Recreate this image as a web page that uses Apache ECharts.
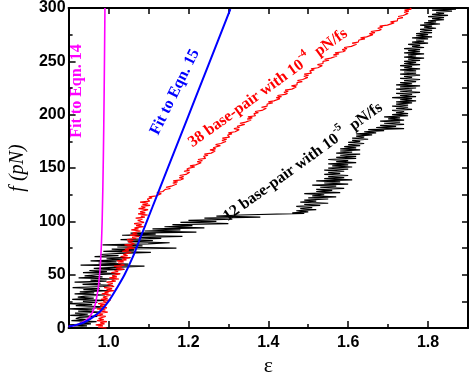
<!DOCTYPE html>
<html>
<head>
<meta charset="UTF-8">
<script src="https://cdn.jsdelivr.net/npm/echarts@6/dist/echarts.min.js"></script>
<style>
html, body { margin: 0; padding: 0; background: #fff; }
#chart { width: 471px; height: 382px; }
</style>
</head>
<body>
<div id="chart"></div>
<script>
// ---- data ----

const xMajorTicks = [1.0, 1.2, 1.4, 1.6, 1.8];

// 12 base-pair, 10^-5 pN/fs (black): strain read at the forces in blackForce
const blackStrain = [
    0.967,0.914,0.946,0.900,0.956,0.928,0.970,0.907,0.949,0.918,
    0.928,0.972,0.904,0.948,0.916,0.980,0.924,0.960,0.900,0.968,
    0.986,0.918,0.959,0.900,0.972,0.936,0.990,0.909,0.963,0.923,
    0.942,0.991,0.915,0.964,0.928,1.000,0.937,0.978,0.910,0.987,
    1.010,0.935,0.980,0.915,0.995,0.955,1.015,0.925,0.985,0.940,
    0.969,1.029,0.936,0.996,0.952,1.040,0.963,1.013,1.090,0.930,
    1.050,0.975,1.020,0.955,1.035,0.995,1.055,0.965,1.025,0.980,
    1.029,1.106,0.987,1.064,1.008,1.170,1.022,1.085,0.985,1.099,
    1.153,1.048,1.111,1.030,1.132,1.076,1.185,1.034,1.118,1.055,
    1.220,1.090,1.180,1.110,1.240,1.140,1.210,1.160,1.300,1.180,
    1.270,1.200,1.310,1.240,1.380,1.270,1.330,1.490,1.460,1.500,
    1.470,1.520,1.480,1.510,1.470,1.530,1.490,1.550,1.480,1.520,
    1.490,1.550,1.500,1.570,1.510,1.540,1.490,1.580,1.520,1.560,
    1.520,1.590,1.530,1.570,1.510,1.600,1.540,1.580,1.520,1.610,
    1.540,1.590,1.550,1.600,1.540,1.580,1.550,1.590,1.540,1.600,
    1.550,1.610,1.560,1.600,1.550,1.620,1.570,1.600,1.550,1.620,
    1.570,1.620,1.580,1.630,1.570,1.610,1.580,1.630,1.580,1.620,
    1.590,1.630,1.600,1.640,1.600,1.630,1.610,1.650,1.610,1.640,
    1.620,1.660,1.620,1.670,1.640,1.690,1.650,1.740,1.670,1.720,
    1.680,1.740,1.690,1.730,1.680,1.740,1.700,1.730,1.690,1.750,
    1.710,1.750,1.720,1.740,1.710,1.760,1.720,1.750,1.710,1.750,
    1.720,1.760,1.720,1.770,1.730,1.760,1.710,1.770,1.730,1.760,
    1.720,1.780,1.730,1.760,1.720,1.770,1.730,1.780,1.720,1.760,
    1.730,1.770,1.740,1.780,1.730,1.760,1.740,1.780,1.730,1.770,
    1.740,1.770,1.730,1.780,1.740,1.760,1.730,1.780,1.740,1.770,
    1.740,1.780,1.750,1.790,1.740,1.770,1.750,1.790,1.740,1.780,
    1.750,1.780,1.740,1.790,1.760,1.780,1.750,1.800,1.760,1.790,
    1.770,1.800,1.760,1.810,1.770,1.800,1.770,1.810,1.780,1.810,
    1.780,1.820,1.790,1.810,1.780,1.830,1.790,1.820,1.800,1.840,
    1.810,1.840,1.800,1.850,1.810,1.840,1.820,1.860,1.810,1.870,
    1.830
];
// forces (pN) for the black trace: every pN, with the jump landing near 107.5 pN
const blackForce = [
    0,1,2,3,4,5,6,7,8,9,10,11,12,13,14,15,16,17,18,19,
    20,21,22,23,24,25,26,27,28,29,30,31,32,33,34,35,36,37,38,39,
    40,41,42,43,44,45,46,47,48,49,50,51,52,53,54,55,56,57,58,59,
    60,61,62,63,64,65,66,67,68,69,70,71,72,73,74,75,76,77,78,79,
    80,81,82,83,84,85,86,87,88,89,90,91,92,93,94,95,96,97,98,99,
    100,101,102,103,104,105,106,107.5,108,109,110,111,112,113,114,115,116,117,118,119,
    120,121,122,123,124,125,126,127,128,129,130,131,132,133,134,135,136,137,138,139,
    140,141,142,143,144,145,146,147,148,149,150,151,152,153,154,155,156,157,158,159,
    160,161,162,163,164,165,166,167,168,169,170,171,172,173,174,175,176,177,178,179,
    180,181,182,183,184,185,186,187,188,189,190,191,192,193,194,195,196,197,198,199,
    200,201,202,203,204,205,206,207,208,209,210,211,212,213,214,215,216,217,218,219,
    220,221,222,223,224,225,226,227,228,229,230,231,232,233,234,235,236,237,238,239,
    240,241,242,243,244,245,246,247,248,249,250,251,252,253,254,255,256,257,258,259,
    260,261,262,263,264,265,266,267,268,269,270,271,272,273,274,275,276,277,278,279,
    280,281,282,283,284,285,286,287,288,289,290,291,292,293,294,295,296,297,298,299,
    300
];

// 38 base-pair, 10^-4 pN/fs (red): strain read at force 0,1,2,...,300 pN
const redStrain = [
    0.995,0.974,0.986,0.968,0.990,0.979,0.996,0.971,0.988,0.975,
    0.978,0.993,0.970,0.986,0.976,0.998,0.978,0.992,0.971,0.996,
    0.999,0.979,0.992,0.974,0.997,0.987,1.005,0.981,0.998,0.986,
    0.990,1.006,0.983,1.000,0.990,1.014,0.995,1.009,0.989,1.014,
    1.018,0.998,1.011,0.995,1.018,1.008,1.026,1.002,1.021,1.009,
    1.013,1.029,1.007,1.024,1.015,1.038,1.019,1.034,1.014,1.040,
    1.044,1.024,1.038,1.021,1.045,1.035,1.053,1.030,1.048,1.037,
    1.041,1.057,1.034,1.051,1.041,1.065,1.046,1.060,1.040,1.065,
    1.069,1.049,1.062,1.046,1.069,1.059,1.077,1.053,1.072,1.060,
    1.064,1.080,1.057,1.075,1.065,1.088,1.069,1.083,1.064,1.089,
    1.093,1.073,1.085,1.068,1.091,1.081,1.098,1.074,1.092,1.079,
    1.083,1.099,1.075,1.092,1.082,1.104,1.085,1.099,1.079,1.103,
    1.106,1.097,1.109,1.101,1.120,1.117,1.132,1.121,1.136,1.131,
    1.142,1.155,1.144,1.157,1.153,1.171,1.161,1.173,1.162,1.181,
    1.188,1.177,1.188,1.178,1.194,1.190,1.203,1.189,1.203,1.196,
    1.202,1.216,1.204,1.218,1.214,1.232,1.222,1.235,1.224,1.243,
    1.248,1.238,1.249,1.240,1.257,1.253,1.267,1.254,1.268,1.262,
    1.267,1.280,1.268,1.281,1.277,1.294,1.284,1.296,1.285,1.303,
    1.308,1.298,1.309,1.300,1.317,1.313,1.327,1.314,1.328,1.322,
    1.327,1.341,1.329,1.343,1.339,1.357,1.347,1.360,1.349,1.368,
    1.373,1.364,1.375,1.367,1.384,1.381,1.395,1.383,1.397,1.392,
    1.397,1.411,1.400,1.414,1.411,1.429,1.420,1.433,1.423,1.442,
    1.448,1.439,1.450,1.442,1.459,1.456,1.470,1.458,1.472,1.467,
    1.472,1.485,1.473,1.486,1.482,1.499,1.489,1.501,1.490,1.508,
    1.513,1.504,1.515,1.507,1.524,1.521,1.535,1.523,1.537,1.532,
    1.537,1.552,1.541,1.556,1.553,1.572,1.563,1.577,1.567,1.587,
    1.593,1.585,1.597,1.590,1.608,1.606,1.621,1.610,1.625,1.621,
    1.627,1.642,1.631,1.646,1.643,1.662,1.653,1.667,1.657,1.677,
    1.683,1.674,1.686,1.679,1.698,1.697,1.715,1.706,1.723,1.719,
    1.724,1.737,1.725,1.738,1.734,1.750,1.740,1.752,1.741,1.758,
    1.755
];

// fit to Eqn. 14 (magenta): [strain, force]
const fit14 = [
    [0.900,1.5],[0.920,3],[0.940,6.5],[0.950,9.5],[0.960,15],[0.965,20],[0.970,28],
    [0.975,40],[0.980,62],[0.984,100],[0.987,160],[0.989,220],[0.991,300]
];

// fit to Eqn. 15 (blue): [strain, force]
const fit15 = [
    [0.900,1.5],[0.920,3],[0.940,5.5],[0.960,10],[0.980,16],[1.000,25],[1.020,37],[1.040,50],
    [1.060,66],[1.080,85],[1.100,104],[1.120,123],[1.150,151.5],[1.200,199],[1.250,246.5],[1.305,299]
];

// pair strain with force for the noisy traces
const black12 = blackStrain.map((x, i) => [x, blackForce[i]]);
const red38 = redStrain.map((x, i) => [x, i]);

// ---- chart ----

const chart = echarts.init(document.getElementById('chart'));

const serif = 'Liberation Serif';
const sans = 'Liberation Sans';
const frame = { show: true, lineStyle: { color: '#000', width: 2 } };

function noteStyle(text, color, rich) {
    return {
        text: text,
        fill: color,
        font: 'bold 16px "' + serif + '"',
        fontFamily: serif,
        fontWeight: 'bold',
        fontSize: 16,
        align: 'center',
        verticalAlign: 'middle',
        textAlign: 'center',
        textVerticalAlign: 'middle',
        rich: rich
    };
}

function supRich(color) {
    return {
        a: { fill: color, fontFamily: serif, fontWeight: 'bold', fontSize: 16, lineHeight: 26 },
        s: { fill: color, fontFamily: serif, fontWeight: 'bold', fontSize: 11, verticalAlign: 'top' }
    };
}

const deg = Math.PI / 180;

chart.setOption({
    animation: false,
    backgroundColor: '#fff',
    grid: { left: 54, right: 3, top: 7, bottom: 37 },
    xAxis: [
        {
            type: 'value', position: 'bottom', min: 0.9, max: 1.9, interval: 0.1,
            axisLine: frame,
            axisTick: { inside: true, length: 4, lineStyle: { color: '#000', width: 1.5 } },
            splitLine: { show: false },
            axisLabel: {
                margin: 6, color: '#000', fontFamily: sans, fontWeight: 'bold', fontSize: 16,
                formatter: v => (Math.round(v * 10) % 2 === 0 ? v.toFixed(1) : '')
            },
            name: 'ε', nameLocation: 'middle', nameGap: 20,
            nameTextStyle: { color: '#000', fontFamily: serif, fontSize: 22 }
        },
        {
            type: 'value', position: 'bottom', min: 0.9, max: 1.9,
            axisLine: { show: false },
            axisTick: { inside: true, length: 7, customValues: xMajorTicks, lineStyle: { color: '#000', width: 1.5 } },
            axisLabel: { show: false },
            splitLine: { show: false }
        },
        {
            type: 'value', position: 'top', min: 0.9, max: 1.9, interval: 0.1,
            axisLine: frame,
            axisTick: { inside: true, length: 6, lineStyle: { color: '#000', width: 1.5 } },
            axisLabel: { show: false },
            splitLine: { show: false }
        }
    ],
    yAxis: [
        {
            type: 'value', position: 'left', min: 0, max: 300, interval: 50,
            axisLine: frame,
            axisTick: { inside: true, length: 7, lineStyle: { color: '#000', width: 1.5 } },
            minorTick: { show: true, splitNumber: 2, length: 4, lineStyle: { color: '#000', width: 1.5 } },
            splitLine: { show: false },
            axisLabel: { margin: 3, color: '#000', fontFamily: sans, fontWeight: 'bold', fontSize: 16 },
            name: 'f (pN)', nameLocation: 'middle', nameGap: 30,
            nameTextStyle: { color: '#000', fontFamily: serif, fontStyle: 'italic', fontSize: 20 }
        },
        {
            type: 'value', position: 'right', min: 0, max: 300, interval: 25,
            axisLine: frame,
            axisTick: { inside: true, length: 6, lineStyle: { color: '#000', width: 1.5 } },
            axisLabel: { show: false },
            splitLine: { show: false }
        }
    ],
    series: [
        {
            name: '12 base-pair', type: 'line', data: black12, showSymbol: false,
            lineStyle: { color: '#000', width: 1.2 }, z: 2
        },
        {
            name: '38 base-pair', type: 'line', data: red38, showSymbol: false,
            lineStyle: { color: '#ff0000', width: 1.2 }, z: 3
        },
        {
            name: 'Fit to Eqn. 14', type: 'line', data: fit14, showSymbol: false, smooth: 0.3,
            lineStyle: { color: '#ff00ff', width: 1.6 }, z: 4
        },
        {
            name: 'Fit to Eqn. 15', type: 'line', data: fit15, showSymbol: false, smooth: 0.3,
            lineStyle: { color: '#0000ff', width: 2 }, z: 5
        }
    ],
    graphic: [
        {
            type: 'text', x: 77, y: 91, rotation: 90 * deg,
            style: noteStyle('Fit to Eqn. 14', '#ff00ff')
        },
        {
            type: 'text', x: 175, y: 92, rotation: 63.8 * deg,
            style: noteStyle('Fit to Eqn. 15', '#0000ff')
        },
        {
            type: 'text', x: 268, y: 88, rotation: 35.8 * deg,
            style: noteStyle('{a|38 base-pair with 10}{s|-4}{a|  pN/fs}', '#ff0000', supRich('#ff0000'))
        },
        {
            type: 'text', x: 303, y: 162, rotation: 35.8 * deg,
            style: noteStyle('{a|12 base-pair with 10}{s|-5}{a|  pN/fs}', '#000', supRich('#000'))
        }
    ]
});
</script>
</body>
</html>
